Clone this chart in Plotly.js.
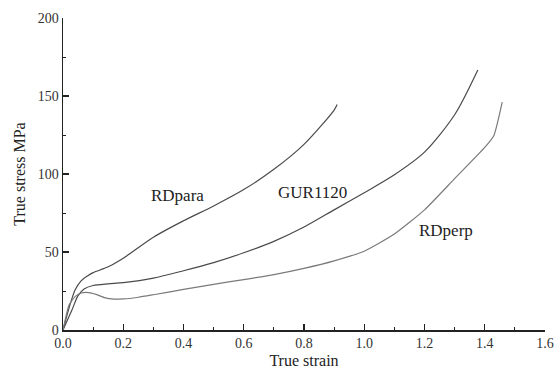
<!DOCTYPE html>
<html>
<head>
<meta charset="utf-8">
<script src="https://cdn.plot.ly/plotly-3.0.1.min.js"></script>
<style>html,body{margin:0;padding:0;background:#fff;}#chart{width:557px;height:372px;}</style>
</head>
<body>
<div id="chart"></div>
<script>
const rdparaX = [0, 0.02, 0.04, 0.06, 0.08, 0.10, 0.15, 0.20, 0.30, 0.40, 0.50, 0.60, 0.70, 0.80, 0.90, 0.91];
const rdparaY = [0, 14, 25.6, 31.5, 34.5, 36.8, 40.5, 46, 59.5, 70, 79.5, 90, 103, 119, 141, 144.5];

const gurX = [0, 0.03, 0.05, 0.07, 0.10, 0.15, 0.20, 0.30, 0.40, 0.50, 0.60, 0.70, 0.80, 0.90, 1.00, 1.10, 1.20, 1.30, 1.377];
const gurY = [0, 13, 22, 26.3, 28.5, 29.6, 30.4, 33.3, 38, 43.2, 49.5, 56.8, 66, 77, 88, 99.5, 114, 138, 166.7];

const rdperpX = [0, 0.02, 0.04, 0.06, 0.085, 0.11, 0.14, 0.17, 0.20, 0.25, 0.30, 0.40, 0.50, 0.60, 0.70, 0.80, 0.90, 1.00, 1.10, 1.20, 1.30, 1.40, 1.43, 1.458];
const rdperpY = [0, 16, 21.4, 23.7, 24, 22.8, 20.6, 19.8, 19.9, 21, 22.6, 26, 29.3, 32.3, 35.5, 39.5, 44.3, 50.5, 61.5, 77, 97, 117, 124.5, 146];

const labelText = ["RDpara", "GUR1120", "RDperp"];
const labelX = [0.38, 0.828, 1.27];
const labelY = [86.5, 88, 64];

const xTitle = "True strain";
const yTitle = "True stress MPa";

const serif = "Liberation Serif, Times New Roman, serif";

const traces = [
  {x: rdparaX, y: rdparaY, name: labelText[0], mode: "lines", line: {color: "#4a4a4a", width: 1.2, shape: "spline", smoothing: 0.8}},
  {x: gurX, y: gurY, name: labelText[1], mode: "lines", line: {color: "#4a4a4a", width: 1.2, shape: "spline", smoothing: 0.8}},
  {x: rdperpX, y: rdperpY, name: labelText[2], mode: "lines", line: {color: "#7a7a7a", width: 1.2, shape: "spline", smoothing: 0.5}}
];

const annotations = labelText.map((t, i) => ({
  x: labelX[i], y: labelY[i], xref: "x", yref: "y", text: t, showarrow: false,
  font: {family: serif, size: 17, color: "#222"}
}));

const layout = {
  width: 557, height: 372,
  margin: {l: 63, r: 12, t: 18, b: 42},
  paper_bgcolor: "#fff", plot_bgcolor: "#fff",
  showlegend: false,
  font: {family: serif, color: "#222", size: 14},
  xaxis: {
    range: [0, 1.6], dtick: 0.2, tickformat: ".1f",
    showgrid: false, zeroline: false,
    showline: true, linecolor: "#222", linewidth: 1.5,
    ticks: "inside", ticklen: 6, tickwidth: 1.2, tickcolor: "#222",
    minor: {ticks: "inside", ticklen: 3, dtick: 0.1, tickcolor: "#222", tickwidth: 1},
    tickfont: {family: serif, size: 14, color: "#333"},
    title: {text: xTitle, font: {family: serif, size: 16, color: "#222"}, standoff: 4}
  },
  yaxis: {
    range: [0, 200], dtick: 50,
    showgrid: false, zeroline: false,
    showline: true, linecolor: "#222", linewidth: 1.5,
    ticks: "inside", ticklen: 6, tickwidth: 1.2, tickcolor: "#222",
    minor: {ticks: "inside", ticklen: 3, dtick: 25, tickcolor: "#222", tickwidth: 1},
    tickfont: {family: serif, size: 14, color: "#333"},
    title: {text: yTitle, font: {family: serif, size: 16, color: "#222"}, standoff: 8}
  },
  annotations: annotations
};

Plotly.newPlot("chart", traces, layout, {staticPlot: true, displayModeBar: false});
</script>
</body>
</html>
